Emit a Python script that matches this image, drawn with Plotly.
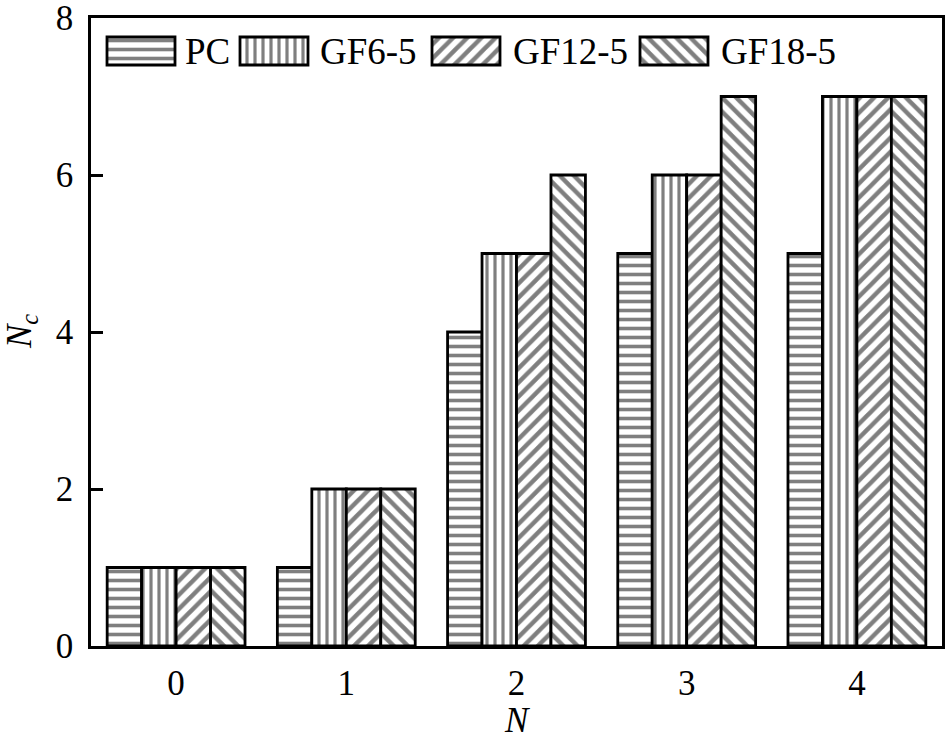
import plotly.graph_objects as go

# ---- data ----
categories = ["0", "1", "2", "3", "4"]
series_names = ["PC", "GF6-5", "GF12-5", "GF18-5"]
pc = [1, 1, 4, 5, 5]
gf6_5 = [1, 2, 5, 6, 7]
gf12_5 = [1, 2, 5, 6, 7]
gf18_5 = [1, 2, 6, 7, 7]
y_ticks = [0, 2, 4, 6, 8]

series_values = [pc, gf6_5, gf12_5, gf18_5]
patterns = ["-", "|", "/", "\\"]
pattern_sizes = [9, 8, 10, 10]
pattern_solidity = [0.4, 0.4, 0.45, 0.45]

FONT = "Liberation Serif"
fig = go.Figure()

for name, vals, pat, psz, sol in zip(series_names, series_values, patterns,
                                     pattern_sizes, pattern_solidity):
    fig.add_trace(go.Bar(
        x=categories, y=vals, name=name, showlegend=False,
        marker=dict(color="white", line=dict(color="black", width=2.8),
                    pattern=dict(shape=pat, fgcolor="black", bgcolor="white",
                                 size=psz, solidity=sol, fillmode="overlay")),
    ))

# ---- custom legend (pixel-mapped overlay axes) ----
L, R, T, B = 91, 942, 18, 646
sw_left = [107, 240, 432, 640]
sw_w = 68
sw_top, sw_h = 37, 28
txt_left = [183, 318, 511, 719]

fig.add_trace(go.Bar(
    x=[s + sw_w / 2 for s in sw_left], y=[sw_h] * 4, base=[sw_top] * 4,
    width=[sw_w] * 4, xaxis="x2", yaxis="y2", showlegend=False, hoverinfo="skip",
    marker=dict(color="white", line=dict(color="black", width=2.8),
                pattern=dict(shape=patterns, fgcolor="black", bgcolor="white",
                             size=pattern_sizes, solidity=pattern_solidity,
                             fillmode="overlay")),
))
for name, tx in zip(series_names, txt_left):
    fig.add_annotation(x=tx, y=sw_top + sw_h / 2, xref="x2", yref="y2", text=name,
                       showarrow=False, xanchor="left", yanchor="middle",
                       font=dict(family=FONT, size=37, color="black"))

# axis titles
fig.add_annotation(x=0.5, y=0, xref="paper", yref="paper", text="<i>N</i>",
                   showarrow=False, xanchor="center", yanchor="top", yshift=-53,
                   font=dict(family=FONT, size=35, color="black"))
fig.add_annotation(x=0, y=0.5, xref="paper", yref="paper", text="<i>N<sub>c</sub></i>",
                   showarrow=False, xanchor="center", yanchor="middle", xshift=-70,
                   textangle=-90, font=dict(family=FONT, size=35, color="black"))

fig.update_layout(
    width=950, height=740,
    margin=dict(l=L, r=950 - R, t=T, b=740 - B),
    paper_bgcolor="white", plot_bgcolor="white",
    barmode="group", bargap=0.19, bargroupgap=0,
    font=dict(family=FONT, size=35, color="black"),
    hovermode=False,
    xaxis=dict(type="category", showline=True, linecolor="black", linewidth=2.5,
               mirror=True, ticks="", showgrid=False, zeroline=False,
               ticklabelstandoff=4, ticklabeloverflow="allow", automargin=False),
    yaxis=dict(range=[0, 8], tickvals=y_ticks, showline=True, linecolor="black",
               linewidth=2.5, mirror=True, ticks="inside", ticklen=12, tickwidth=2.5,
               tickcolor="black", showgrid=False, zeroline=False,
               ticklabelstandoff=8, ticklabeloverflow="allow", automargin=False),
    xaxis2=dict(overlaying="x", range=[L, R], visible=False, anchor="y2"),
    yaxis2=dict(overlaying="y", range=[B, T], visible=False, anchor="x2"),
)

fig.write_html("out.html", config={"displayModeBar": False},
               post_script="document.body.style.margin='0';document.body.style.overflow='hidden';")
